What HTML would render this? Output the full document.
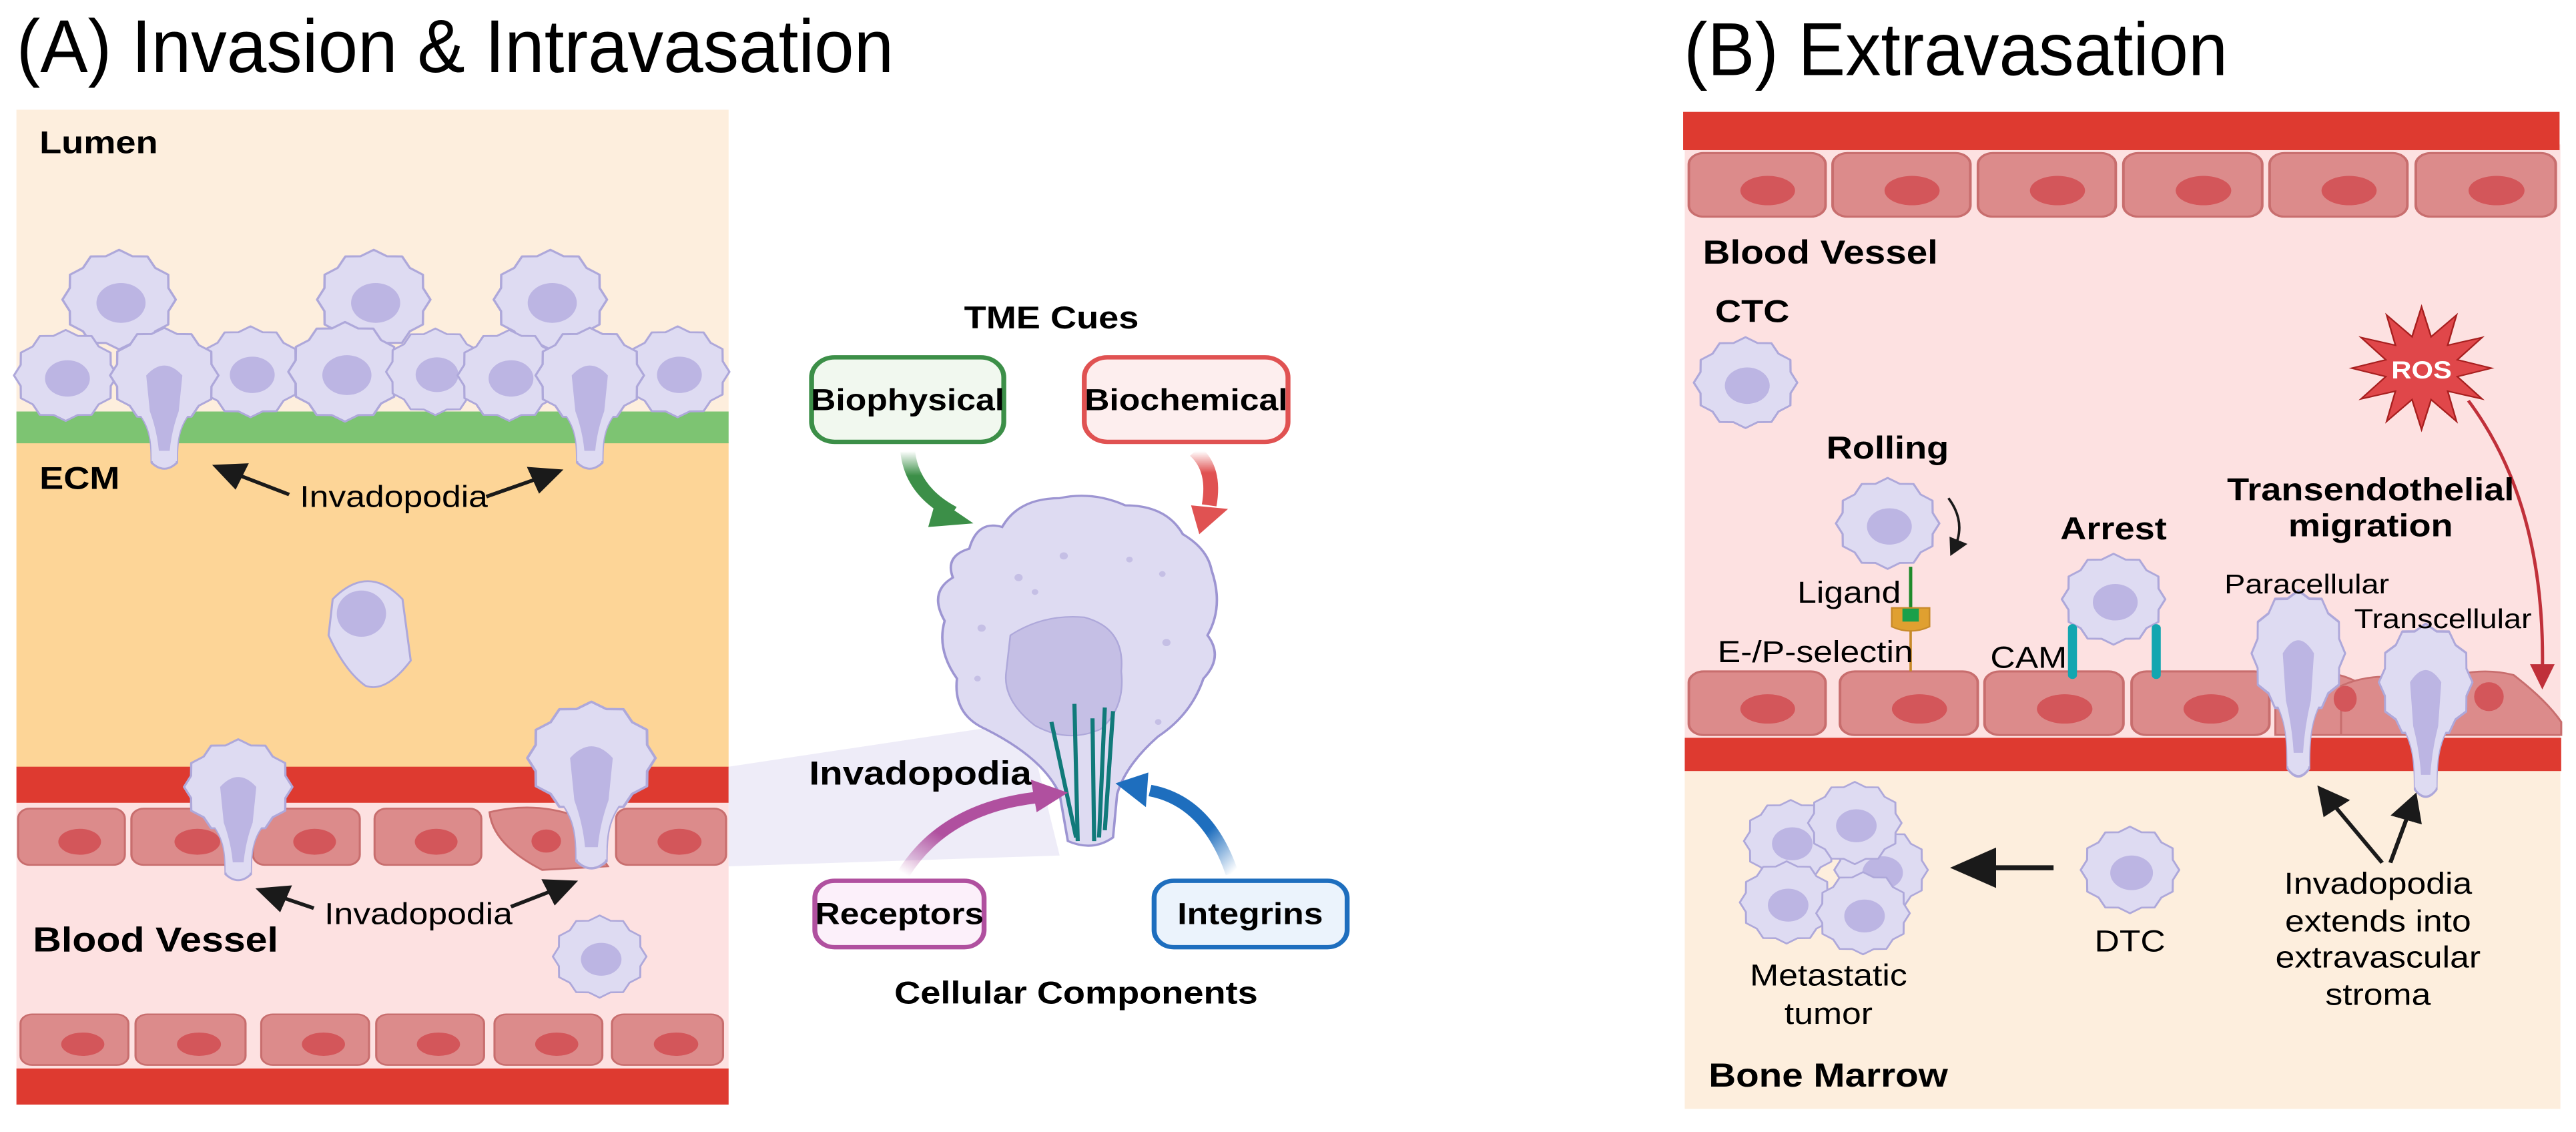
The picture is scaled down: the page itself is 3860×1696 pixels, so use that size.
<!DOCTYPE html>
<html><head><meta charset="utf-8"><style>
html,body{margin:0;padding:0;background:#fff;overflow:hidden}
svg{display:block}
text{font-family:"Liberation Sans",sans-serif}
.b{font-weight:bold}
</style></head><body>
<svg width="3860" height="1696" viewBox="0 0 3136 1568" preserveAspectRatio="none" xmlns="http://www.w3.org/2000/svg">
<defs>
<g id="cellbody">
<polygon points="60,0 52.2,14 52,30 38.2,38.2 30,52 14,52.2 0,60 -14,52.2 -30,52 -38.2,38.2 -52,30 -52.2,14 -60,0 -52.2,-14 -52,-30 -38.2,-38.2 -30,-52 -14,-52.2 0,-60 14,-52.2 30,-52 38.2,-38.2 52,-30 52.2,-14" fill="#dedbf2" stroke="#aea8da" stroke-width="2.5" stroke-linejoin="round"/>
</g>
<g id="cell">
<use href="#cellbody"/>
<ellipse cx="2" cy="4" rx="26" ry="24" fill="#bcb5e3"/>
</g>
<g id="inv">
<path d="M-38,35 C-15,60 -14,80 -14,110 Q0,125 14,110 C14,80 15,60 38,35 Z" fill="#dedbf2" stroke="#aea8da" stroke-width="2.5"/>
<use href="#cellbody"/>
<path d="M-38,34 C-15,60 -14,80 -14,108 L14,108 C14,80 15,60 38,34 Z" fill="#dedbf2"/>
<path d="M-20,0 Q0,-25 20,0 L16,45 Q8,70 6,95 L-6,95 Q-8,70 -16,45 Z" fill="#bcb5e3"/>
</g>
<g id="endo">
<rect x="0" y="0" width="130" height="78" rx="14" fill="#dc8b8b" stroke="#c86e6e" stroke-width="2.5"/>
<ellipse cx="75" cy="46" rx="26" ry="18" fill="#d3565a"/>
</g>
<marker id="ak" markerWidth="8" markerHeight="8" refX="5" refY="4" orient="auto" markerUnits="strokeWidth"><path d="M0,0 L8,4 L0,8 Z" fill="#1a1a1a"/></marker>
<linearGradient id="gG" x1="0" y1="0" x2="0" y2="1"><stop offset="0" stop-color="#3c8f48" stop-opacity="0"/><stop offset="0.4" stop-color="#3c8f48"/></linearGradient>
<linearGradient id="gR" x1="0" y1="0" x2="0" y2="1"><stop offset="0" stop-color="#e05252" stop-opacity="0"/><stop offset="0.4" stop-color="#e05252"/></linearGradient>
<linearGradient id="gP" x1="0" y1="1" x2="1" y2="0"><stop offset="0" stop-color="#b0509f" stop-opacity="0"/><stop offset="0.4" stop-color="#b0509f"/></linearGradient>
<linearGradient id="gB" x1="1" y1="1" x2="0" y2="0"><stop offset="0" stop-color="#1e6ebe" stop-opacity="0"/><stop offset="0.4" stop-color="#1e6ebe"/></linearGradient>
</defs>

<!-- Titles -->
<text x="20" y="100" font-size="104" textLength="1068" lengthAdjust="spacingAndGlyphs">(A) Invasion &amp; Intravasation</text>
<text x="2050" y="104" font-size="104" textLength="662" lengthAdjust="spacingAndGlyphs">(B) Extravasation</text>

<!-- Panel A backgrounds -->
<rect x="20" y="152" width="867" height="425" fill="#fdeedd"/>
<rect x="20" y="612" width="867" height="452" fill="#fdd597"/>
<rect x="20" y="1110" width="867" height="372" fill="#fde1e1"/>
<rect x="20" y="570" width="867" height="44" fill="#7dc472"/>
<rect x="20" y="1062" width="867" height="50" fill="#de3a30"/>
<rect x="20" y="1480" width="867" height="50" fill="#de3a30"/>

<!-- endothelium A -->
<use href="#endo" transform="translate(22,1120)"/>
<use href="#endo" transform="translate(160,1120) scale(1.07,1)"/>
<use href="#endo" transform="translate(308,1120)"/>
<use href="#endo" transform="translate(456,1120)"/>
<path d="M596,1125 Q650,1110 700,1130 L740,1200 L660,1205 Q600,1170 596,1125 Z" fill="#dc8b8b" stroke="#c86e6e" stroke-width="2.5"/>
<ellipse cx="665" cy="1165" rx="18" ry="16" fill="#d3565a"/>
<use href="#endo" transform="translate(750,1120) scale(1.03,1)"/>
<use href="#endo" transform="translate(25,1405) scale(1.01,0.9)"/>
<use href="#endo" transform="translate(165,1405) scale(1.03,0.9)"/>
<use href="#endo" transform="translate(318,1405) scale(1.01,0.9)"/>
<use href="#endo" transform="translate(458,1405) scale(1.01,0.9)"/>
<use href="#endo" transform="translate(602,1405) scale(1.01,0.9)"/>
<use href="#endo" transform="translate(745,1405) scale(1.04,0.9)"/>

<!-- Lumen cells -->
<use href="#cell" transform="translate(145,415) scale(1.15)"/>
<use href="#cell" transform="translate(455,415) scale(1.15)"/>
<use href="#cell" transform="translate(670,415) scale(1.15)"/>
<use href="#cell" transform="translate(80,520) scale(1.05)"/>
<use href="#cell" transform="translate(305,515) scale(1.05)"/>
<use href="#cell" transform="translate(420,515) scale(1.15)"/>
<use href="#cell" transform="translate(530,515) scale(1.0)"/>
<use href="#cell" transform="translate(620,520) scale(1.05)"/>
<use href="#cell" transform="translate(825,515) scale(1.05)"/>
<use href="#inv" transform="translate(200,520) scale(1.1)"/>
<use href="#inv" transform="translate(718,520) scale(1.1)"/>

<!-- ECM cell -->
<path d="M405,830 Q448,780 490,830 L500,915 Q470,960 445,950 Q420,930 400,880 Z" fill="#dedbf2" stroke="#aea8da" stroke-width="2.5"/>
<ellipse cx="440" cy="850" rx="30" ry="32" fill="#bcb5e3"/>

<!-- Blood vessel cells A -->
<use href="#inv" transform="translate(290,1090) scale(1.1)"/>
<use href="#inv" transform="translate(720,1050) scale(1.3)"/>
<use href="#cell" transform="translate(730,1325) scale(0.95)"/>

<!-- labels A -->
<text x="48" y="212" font-size="44" class="b">Lumen</text>
<text x="48" y="677" font-size="44" class="b">ECM</text>
<text x="40" y="1318" font-size="48" class="b">Blood Vessel</text>
<text x="365" y="702" font-size="42">Invadopodia</text>
<line x1="352" y1="685" x2="272" y2="650" stroke="#1a1a1a" stroke-width="5" marker-end="url(#ak)"/>
<line x1="592" y1="688" x2="672" y2="656" stroke="#1a1a1a" stroke-width="5" marker-end="url(#ak)"/>
<text x="395" y="1280" font-size="42">Invadopodia</text>
<line x1="382" y1="1258" x2="325" y2="1236" stroke="#1a1a1a" stroke-width="5" marker-end="url(#ak)"/>
<line x1="622" y1="1256" x2="690" y2="1226" stroke="#1a1a1a" stroke-width="5" marker-end="url(#ak)"/>

<!-- zoom wedge -->
<polygon points="887,1062 1250,1000 1290,1185 887,1200" fill="#ebe9f7" opacity="0.85"/>

<!-- TME -->
<text x="1280" y="455" font-size="44" class="b" text-anchor="middle">TME Cues</text>
<rect x="988" y="495" width="234" height="117" rx="28" fill="#f1f8ef" stroke="#3c8f48" stroke-width="6"/>
<text x="1105" y="568" font-size="42" class="b" text-anchor="middle">Biophysical</text>
<rect x="1320" y="495" width="248" height="117" rx="28" fill="#fdeeee" stroke="#e05252" stroke-width="6"/>
<text x="1444" y="568" font-size="42" class="b" text-anchor="middle">Biochemical</text>
<rect x="992" y="1220" width="206" height="92" rx="24" fill="#fcf0fa" stroke="#b0509f" stroke-width="6"/>
<text x="1095" y="1280" font-size="42" class="b" text-anchor="middle">Receptors</text>
<rect x="1405" y="1220" width="235" height="92" rx="24" fill="#ebf3fc" stroke="#1e6ebe" stroke-width="6"/>
<text x="1522" y="1280" font-size="42" class="b" text-anchor="middle">Integrins</text>
<text x="1310" y="1390" font-size="44" class="b" text-anchor="middle">Cellular Components</text>
<text x="985" y="1087" font-size="46" class="b">Invadopodia</text>

<!-- big cell -->
<path d="M1180,760 Q1190,720 1220,730 Q1240,690 1290,690 Q1330,680 1370,700 Q1420,700 1440,740 Q1470,760 1475,790 Q1490,840 1470,880 Q1490,910 1465,940 Q1450,990 1410,1020 Q1370,1060 1360,1100 L1355,1160 Q1330,1180 1300,1165 L1290,1100 Q1270,1050 1200,1010 Q1160,990 1165,940 Q1140,900 1150,860 Q1130,820 1160,800 Q1150,770 1180,760 Z" fill="#dedbf2" stroke="#9d95d2" stroke-width="3"/>
<path d="M1230,880 Q1270,850 1320,855 Q1370,870 1365,930 Q1370,980 1340,1010 Q1300,1030 1260,1005 Q1220,970 1225,930 Z" fill="#c5bfe5" stroke="#aea8da" stroke-width="2"/>
<g stroke="#117a7a" stroke-width="5">
<line x1="1280" y1="1000" x2="1310" y2="1160"/>
<line x1="1308" y1="975" x2="1312" y2="1165"/>
<line x1="1330" y1="995" x2="1332" y2="1165"/>
<line x1="1345" y1="980" x2="1338" y2="1160"/>
<line x1="1355" y1="985" x2="1345" y2="1150"/>
</g>
<g fill="#c5bfe5">
<circle cx="1240" cy="800" r="5"/><circle cx="1295" cy="770" r="5"/><circle cx="1375" cy="775" r="4"/><circle cx="1260" cy="820" r="4"/><circle cx="1415" cy="795" r="4"/><circle cx="1195" cy="870" r="5"/><circle cx="1420" cy="890" r="5"/><circle cx="1190" cy="940" r="4"/><circle cx="1410" cy="1000" r="4"/>
</g>

<!-- TME arrows -->
<path d="M1105,625 Q1110,680 1160,710" fill="none" stroke="url(#gG)" stroke-width="18"/>
<polygon points="1140,690 1185,725 1130,730" fill="#3c8f48"/>
<path d="M1455,625 Q1480,650 1472,700" fill="none" stroke="url(#gR)" stroke-width="18"/>
<polygon points="1450,700 1495,705 1460,740" fill="#e05252"/>
<path d="M1100,1210 Q1150,1120 1260,1105" fill="none" stroke="url(#gP)" stroke-width="16"/>
<polygon points="1255,1080 1300,1098 1262,1125" fill="#b0509f"/>
<path d="M1500,1210 Q1470,1110 1400,1095" fill="none" stroke="url(#gB)" stroke-width="16"/>
<polygon points="1398,1070 1358,1085 1395,1118" fill="#1e6ebe"/>

<!-- Panel B backgrounds -->
<rect x="2051" y="200" width="1066" height="825" fill="#fde1e1"/>
<rect x="2051" y="1066" width="1066" height="470" fill="#fdeedd"/>
<rect x="2049" y="155" width="1067" height="53" fill="#de3a30"/>
<rect x="2051" y="1022" width="1067" height="46" fill="#de3a30"/>

<use href="#endo" transform="translate(2056,212) scale(1.28,1.13)"/>
<use href="#endo" transform="translate(2231,212) scale(1.29,1.13)"/>
<use href="#endo" transform="translate(2408,212) scale(1.29,1.13)"/>
<use href="#endo" transform="translate(2585,212) scale(1.3,1.13)"/>
<use href="#endo" transform="translate(2763,212) scale(1.29,1.13)"/>
<use href="#endo" transform="translate(2941,212) scale(1.31,1.13)"/>
<use href="#endo" transform="translate(2056,930) scale(1.28,1.13)"/>
<use href="#endo" transform="translate(2240,930) scale(1.29,1.13)"/>
<use href="#endo" transform="translate(2416,930) scale(1.3,1.13)"/>
<use href="#endo" transform="translate(2595,930) scale(1.29,1.13)"/>
<path d="M2770,940 Q2830,920 2870,945 L2910,1018 L2770,1018 Z" fill="#dc8b8b" stroke="#c86e6e" stroke-width="2.5"/>
<path d="M2850,950 Q2900,925 2950,950 Q3010,920 3060,935 Q3100,970 3118,1000 L3118,1018 L2850,1018 Z" fill="#dc8b8b" stroke="#c86e6e" stroke-width="2.5"/>
<ellipse cx="3030" cy="965" rx="18" ry="20" fill="#d3565a"/>
<ellipse cx="2855" cy="968" rx="14" ry="18" fill="#d3565a"/>

<!-- B cells -->
<use href="#cell" transform="translate(2125,530) scale(1.05)"/>
<use href="#cell" transform="translate(2298,725) scale(1.05)"/>
<path d="M2372,690 Q2395,725 2378,762" fill="none" stroke="#1a1a1a" stroke-width="3" marker-end="url(#ak)"/>
<line x1="2326" y1="785" x2="2326" y2="850" stroke="#1f8a2a" stroke-width="4"/>
<line x1="2326" y1="860" x2="2326" y2="930" stroke="#c88a2a" stroke-width="3"/>
<path d="M2303,842 L2303,868 Q2326,880 2349,868 L2349,842 Z" fill="#e0a030" stroke="#c88a2a" stroke-width="2"/>
<rect x="2316" y="843" width="20" height="18" fill="#1aa04a"/>
<use href="#cell" transform="translate(2573,830) scale(1.05)"/>
<line x1="2523" y1="870" x2="2523" y2="935" stroke="#13a6b0" stroke-width="11" stroke-linecap="round"/>
<line x1="2625" y1="870" x2="2625" y2="935" stroke="#13a6b0" stroke-width="11" stroke-linecap="round"/>
<use href="#inv" transform="translate(2798,905) scale(0.95,1.45)"/>
<use href="#inv" transform="translate(2953,945) scale(0.95,1.35)"/>

<!-- cluster & DTC -->
<use href="#cell" transform="translate(2180,1165) scale(0.95)"/>
<use href="#cell" transform="translate(2290,1205) scale(0.95)"/>
<use href="#cell" transform="translate(2258,1140) scale(0.95)"/>
<use href="#cell" transform="translate(2175,1250) scale(0.95)"/>
<use href="#cell" transform="translate(2268,1265) scale(0.95)"/>
<use href="#cell" transform="translate(2593,1205) scale(1.0)"/>
<line x1="2500" y1="1202" x2="2395" y2="1202" stroke="#1a1a1a" stroke-width="7" marker-end="url(#ak)"/>
<line x1="2900" y1="1195" x2="2830" y2="1100" stroke="#1a1a1a" stroke-width="5" marker-end="url(#ak)"/>
<line x1="2910" y1="1195" x2="2937" y2="1112" stroke="#1a1a1a" stroke-width="5" marker-end="url(#ak)"/>

<!-- ROS -->
<polygon transform="translate(2948,510)" points="85,0 43.5,11.6 73.6,42.5 31.8,31.8 42.5,73.6 11.6,43.5 0,85 -11.6,43.5 -42.5,73.6 -31.8,31.8 -73.6,42.5 -43.5,11.6 -85,0 -43.5,-11.6 -73.6,-42.5 -31.8,-31.8 -42.5,-73.6 -11.6,-43.5 0,-85 11.6,-43.5 42.5,-73.6 31.8,-31.8 73.6,-42.5 43.5,-11.6" fill="#e0474a" stroke="#a82020" stroke-width="2"/>
<text x="2948" y="524" font-size="34" class="b" fill="#fff" text-anchor="middle">ROS</text>
<path d="M3005,555 Q3100,700 3095,935" fill="none" stroke="#c0303a" stroke-width="4"/>
<polygon points="3080,920 3110,920 3095,955" fill="#c0303a"/>

<!-- B labels -->
<text x="2073" y="365" font-size="46" class="b">Blood Vessel</text>
<text x="2088" y="446" font-size="44" class="b">CTC</text>
<text x="2298" y="635" font-size="44" class="b" text-anchor="middle">Rolling</text>
<text x="2188" y="835" font-size="42">Ligand</text>
<text x="2091" y="917" font-size="42">E-/P-selectin</text>
<text x="2573" y="747" font-size="44" class="b" text-anchor="middle">Arrest</text>
<text x="2423" y="925" font-size="42">CAM</text>
<text x="2886" y="693" font-size="44" class="b" text-anchor="middle">Transendothelial</text>
<text x="2886" y="743" font-size="44" class="b" text-anchor="middle">migration</text>
<text x="2708" y="822" font-size="38">Paracellular</text>
<text x="2866" y="870" font-size="38">Transcellular</text>
<text x="2895" y="1238" font-size="42" text-anchor="middle">Invadopodia</text>
<text x="2895" y="1290" font-size="42" text-anchor="middle">extends into</text>
<text x="2895" y="1340" font-size="42" text-anchor="middle">extravascular</text>
<text x="2895" y="1392" font-size="42" text-anchor="middle">stroma</text>
<text x="2226" y="1365" font-size="42" text-anchor="middle">Metastatic</text>
<text x="2226" y="1418" font-size="42" text-anchor="middle">tumor</text>
<text x="2593" y="1318" font-size="42" text-anchor="middle">DTC</text>
<text x="2080" y="1505" font-size="46" class="b">Bone Marrow</text>
</svg>
</body></html>
